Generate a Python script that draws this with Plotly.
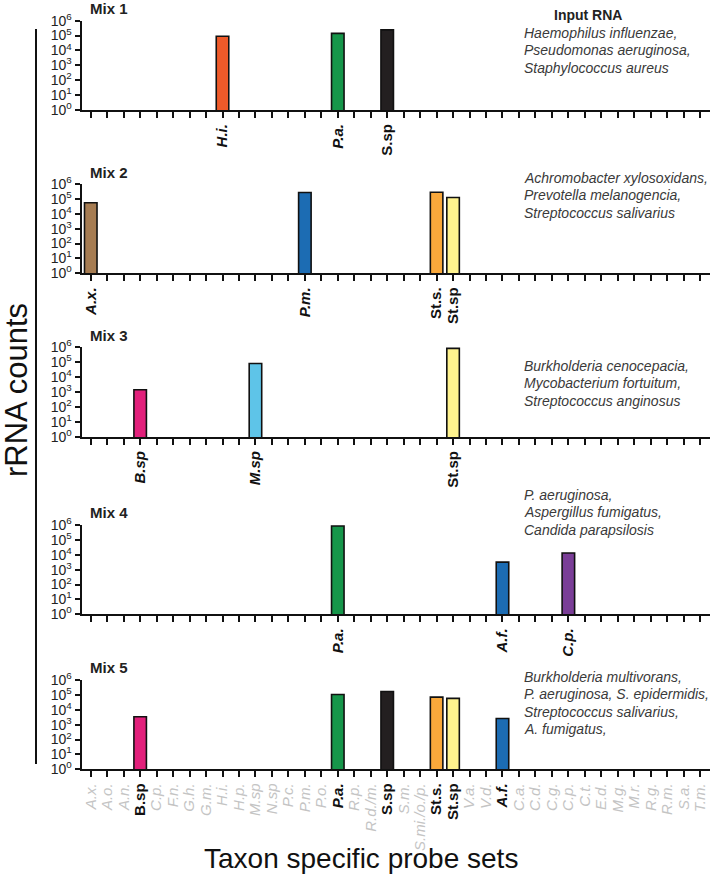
import plotly.graph_objects as go

W, H = 714, 877

# ---------------- data ----------------
taxa = ["A.x.", "A.o.", "A.n.", "B.sp", "C.p.", "F.n.", "G.h.", "G.m.", "H.i.", "H.p.",
        "M.sp", "N.sp", "P.c.", "P.m.", "P.o.", "P.a.", "R.p.", "R.d./m.", "S.sp", "S.m.",
        "S.mi./o./p.", "St.s.", "St.sp", "V.a.", "V.d.", "A.f.", "C.a.", "C.d.", "C.g.", "C.p.",
        "C.t.", "E.d.", "M.g.", "M.r.", "R.g.", "R.m.", "S.a.", "T.m."]

mix_names = ["Mix 1", "Mix 2", "Mix 3", "Mix 4", "Mix 5"]

mix1_idx = [8, 15, 18]
mix1_vals = [9.0e4, 1.4e5, 2.4e5]
mix2_idx = [0, 13, 21, 22]
mix2_vals = [5.5e4, 2.7e5, 2.8e5, 1.25e5]
mix3_idx = [3, 10, 22]
mix3_vals = [1.4e3, 7.9e4, 8.1e5]
mix4_idx = [15, 25, 29]
mix4_vals = [8.6e5, 3.2e3, 1.3e4]
mix5_idx = [3, 15, 18, 21, 22, 25]
mix5_vals = [3.4e3, 1.07e5, 1.7e5, 7.1e4, 5.8e4, 2.6e3]

mix_idx = [mix1_idx, mix2_idx, mix3_idx, mix4_idx, mix5_idx]
mix_vals = [mix1_vals, mix2_vals, mix3_vals, mix4_vals, mix5_vals]

taxon_colors = {0: "#A67C52", 3: "#E2207B", 8: "#EE5A2A", 10: "#5EC4E8", 13: "#1C6CB3",
                15: "#16964A", 18: "#231F20", 21: "#F9A83B", 22: "#FFF38E", 25: "#1C6CB3",
                29: "#7A3E97"}

input_rna = [
    ["Haemophilus influenzae,", "Pseudomonas aeruginosa,", "Staphylococcus aureus"],
    ["Achromobacter xylosoxidans,", "Prevotella melanogencia,", "Streptococcus salivarius"],
    ["Burkholderia cenocepacia,", "Mycobacterium fortuitum,", "Streptococcus anginosus"],
    ["P. aeruginosa,", "Aspergillus fumigatus,", "Candida parapsilosis"],
    ["Burkholderia multivorans,", "P. aeruginosa, S. epidermidis,", "Streptococcus salivarius,", "A. fumigatus,"],
]

upright = {"S.sp", "St.s.", "St.sp"}

# ---------------- layout geometry (pixels) ----------------
tops = [20.7, 184.0, 347.0, 525.0, 680.0]
bots = [110.0, 273.3, 437.0, 614.3, 769.3]
x_left, x_right = 81.7, 710.0
text_top = [33, 178, 366, 495, 677]
title_y = [8.5, 172, 335, 512, 667]

FONT = "Liberation Sans, Arial, sans-serif"


def py(p):
    return 1 - p / H


def px(p):
    return p / W


fig = go.Figure()

for k in range(5):
    sfx = "" if k == 0 else str(k + 1)
    idx = mix_idx[k]
    vals = mix_vals[k]
    cols = [taxon_colors[i] for i in idx]
    fig.add_trace(go.Bar(x=idx, y=vals, width=0.76,
                         marker=dict(color=cols, line=dict(color="#111", width=1.6)),
                         xaxis="x" + sfx, yaxis="y" + sfx, showlegend=False,
                         hovertemplate="%{y}<extra></extra>"))
    ticktext = []
    for i, t in enumerate(taxa):
        if i in idx:
            if t in upright or (k == 4 and t == "B.sp"):
                ticktext.append("<b>%s</b>" % t)
            else:
                ticktext.append("<b><i>%s</i></b>" % t)
        elif k == 4:
            ticktext.append("<span style='color:#c4c4c4'><i>%s</i></span>" % t)
        else:
            ticktext.append(" ")
    fig.layout["xaxis" + sfx] = dict(
        domain=[px(x_left), px(x_right)], anchor="y" + sfx,
        range=[-0.55, 37.6], automargin=False,
        tickmode="array", tickvals=list(range(len(taxa))), ticktext=ticktext,
        tickangle=-90, ticks="outside", ticklen=6, tickwidth=2.2, tickcolor="#111",
        showline=True, linewidth=2.2, linecolor="#111", showgrid=False, zeroline=False,
        tickfont=dict(family=FONT, size=15, color="#111"), fixedrange=True)
    fig.layout["yaxis" + sfx] = dict(
        domain=[py(bots[k]), py(tops[k])], anchor="x" + sfx,
        type="log", range=[0, 6], automargin=False,
        tickmode="array", tickvals=[10 ** n for n in range(7)],
        ticktext=["10<sup>%d</sup>" % n for n in range(7)],
        ticks="outside", ticklen=5, tickwidth=2.2, tickcolor="#111",
        showline=True, linewidth=2.2, linecolor="#111", showgrid=False, zeroline=False,
        tickfont=dict(family=FONT, size=14, color="#222"), fixedrange=True)

    fig.add_annotation(text="<b>%s</b>" % mix_names[k], xref="paper", yref="paper",
                       x=px(88), y=py(title_y[k]), xanchor="left", yanchor="middle",
                       showarrow=False, font=dict(family=FONT, size=15, color="#222"))
    for j, line in enumerate(input_rna[k]):
        fig.add_annotation(text="<i>%s</i>" % line, xref="paper", yref="paper",
                           x=px(522), y=py(text_top[k] + 17.3 * j),
                           xanchor="left", yanchor="middle", showarrow=False,
                           font=dict(family=FONT, size=14, color="#3a3a3a"))

fig.add_annotation(text="<b>Input RNA</b>", xref="paper", yref="paper",
                   x=px(552), y=py(15), xanchor="left", yanchor="middle",
                   showarrow=False, font=dict(family=FONT, size=14, color="#222"))

fig.add_annotation(text="rRNA counts", xref="paper", yref="paper", textangle=-90,
                   x=px(17), y=py(390), xanchor="center", yanchor="middle",
                   showarrow=False, font=dict(family=FONT, size=31, color="#111"))
fig.add_annotation(text="Taxon specific probe sets", xref="paper", yref="paper",
                   x=px(361), y=py(858), xanchor="center", yanchor="middle",
                   showarrow=False, font=dict(family=FONT, size=28, color="#111"))

fig.add_shape(type="line", xref="paper", yref="paper",
              x0=px(36), x1=px(36), y0=py(29), y1=py(764),
              line=dict(color="#111", width=2))

fig.update_layout(width=W, height=H, margin=dict(l=0, r=0, t=0, b=0, autoexpand=False),
                  paper_bgcolor="white", plot_bgcolor="white", bargap=0.2,
                  font=dict(family=FONT))

fig.write_html("out.html", config={"displayModeBar": False},
               post_script="document.body.style.margin='0';")
